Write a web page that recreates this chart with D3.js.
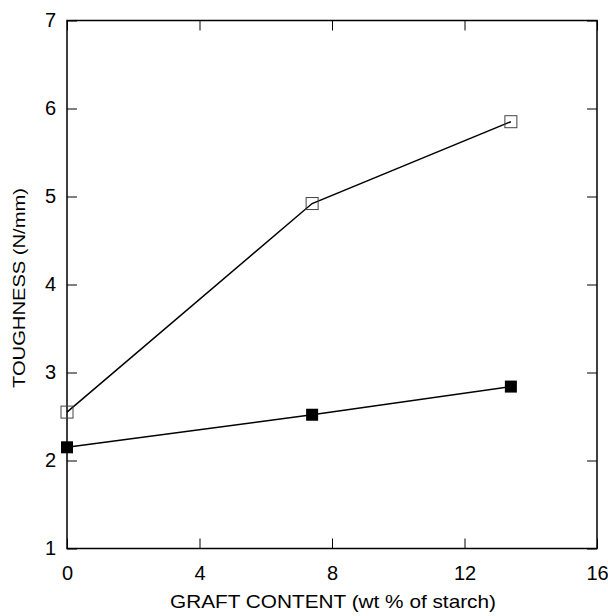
<!DOCTYPE html>
<html><head><meta charset="utf-8">
<script src="https://cdn.jsdelivr.net/npm/d3@7"></script>
<style>body{margin:0;background:#fff}svg{display:block}text{font-family:Arial,"Liberation Sans",sans-serif;fill:#000}</style>
</head><body><svg id="c" width="608" height="616"></svg>
<script>
const graft = [0, 7.4, 13.4];
const openSeries = [2.55, 4.92, 5.85];
const filledSeries = [2.15, 2.52, 2.84];
const xTicks = [0, 4, 8, 12, 16];
const yTicks = [1, 2, 3, 4, 5, 6, 7];

const svg = d3.select("#c");
const L = 67, R = 597, T = 20.5, B = 548.5;
const x = d3.scaleLinear().domain([0, 16]).range([L, R]);
const y = d3.scaleLinear().domain([1, 7]).range([B, T]);
const fmt = d3.format("d");

function styleAxis(g){
  g.select(".domain").remove();
  g.selectAll(".tick line").attr("stroke","#000").attr("stroke-width",1);
}
svg.append("g").attr("transform",`translate(0,${B})`)
  .call(d3.axisBottom(x).tickValues(xTicks).tickFormat(fmt).tickSizeInner(-10).tickSizeOuter(0).tickPadding(17))
  .call(styleAxis).selectAll("text").attr("font-size",20);
svg.append("g").attr("transform",`translate(0,${T})`)
  .call(d3.axisTop(x).tickValues(xTicks).tickSizeInner(-10).tickSizeOuter(0).tickFormat(""))
  .call(styleAxis);
svg.append("g").attr("transform",`translate(${L},0)`)
  .call(d3.axisLeft(y).tickValues(yTicks).tickFormat(fmt).tickSizeInner(-10).tickSizeOuter(0).tickPadding(11))
  .call(styleAxis).selectAll("text").attr("font-size",20);
svg.append("g").attr("transform",`translate(${R},0)`)
  .call(d3.axisRight(y).tickValues(yTicks).tickSizeInner(-10).tickSizeOuter(0).tickFormat(""))
  .call(styleAxis);

svg.append("rect").attr("x",L).attr("y",T).attr("width",R-L).attr("height",B-T)
  .attr("fill","none").attr("stroke","#000").attr("stroke-width",1.5);

const line = d3.line().x((d,i)=>x(graft[i])).y(d=>y(d));
svg.append("path").datum(openSeries).attr("d",line).attr("fill","none").attr("stroke","#000").attr("stroke-width",1.5);
svg.append("path").datum(filledSeries).attr("d",line).attr("fill","none").attr("stroke","#000").attr("stroke-width",1.5);

const s = 12;
svg.selectAll(".op").data(openSeries).enter().append("rect")
  .attr("x",(d,i)=>x(graft[i])-s/2).attr("y",d=>y(d)-s/2).attr("width",s).attr("height",s)
  .attr("fill","none").attr("stroke","#444").attr("stroke-width",1);
svg.selectAll(".fp").data(filledSeries).enter().append("rect")
  .attr("x",(d,i)=>x(graft[i])-s/2).attr("y",d=>y(d)-s/2).attr("width",s).attr("height",s)
  .attr("fill","#000");

svg.append("text").attr("x",333).attr("y",608).attr("text-anchor","middle").attr("font-size",18.5)
  .attr("textLength",326).attr("lengthAdjust","spacingAndGlyphs")
  .text("GRAFT CONTENT (wt % of starch)");
svg.append("text").attr("transform",`translate(25,288) rotate(-90)`).attr("text-anchor","middle").attr("font-size",17)
  .attr("textLength",200).attr("lengthAdjust","spacingAndGlyphs")
  .text("TOUGHNESS (N/mm)");
</script></body></html>
